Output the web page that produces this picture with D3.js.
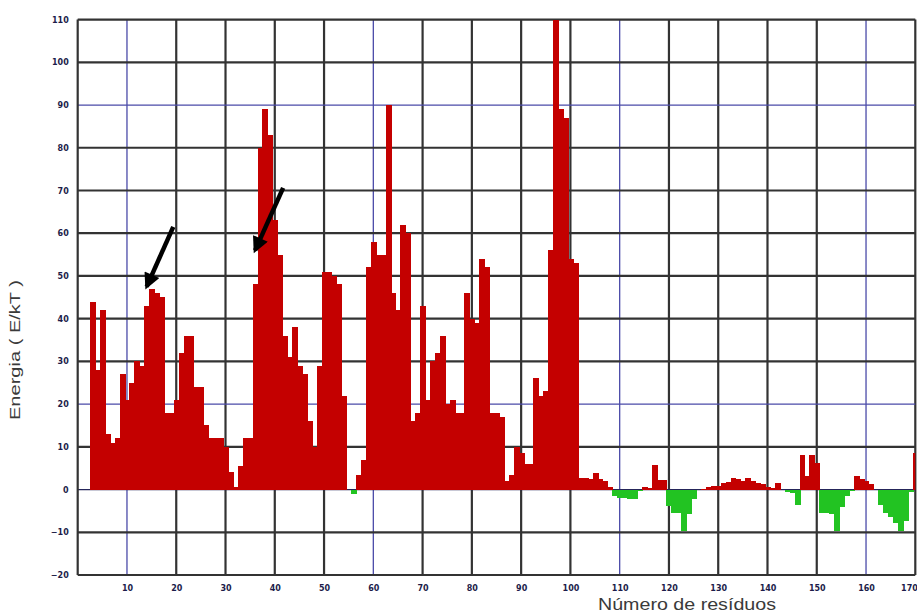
<!DOCTYPE html>
<html>
<head>
<meta charset="utf-8">
<script src="https://cdn.jsdelivr.net/npm/d3@7"></script>
<style>
  body { margin: 0; background: #fff; }
  svg { display: block; }
  .tick-label { font-family: "DejaVu Sans", sans-serif; font-weight: bold; font-size: 8px; fill: #1c1c4a; }
  .axis-title { font-family: "Liberation Sans", Arial, sans-serif; fill: #3a3a3a; }
</style>
</head>
<body>
<svg id="chart"></svg>
<script>
// energy per residue, first bar is residue 3
const firstResidue = 3
const energy = [
  44, 28, 42, 13, 11, 12, 27, 21, 25, 30,
  29, 43, 47, 46, 45, 18, 18, 21, 32, 36,
  36, 24, 24, 15, 12, 12, 12, 10, 4, 0.5,
  5.5, 12, 12, 48, 80, 89, 83, 63, 55, 36,
  31, 38, 29, 27, 16, 10, 29, 51, 51, 50,
  48, 22, 0, -1, 3.5, 7, 52, 58, 55, 55,
  90, 46, 42, 62, 60, 16, 18, 43, 21, 30,
  32, 36, 20, 21, 18, 18, 46, 40, 39, 54,
  52, 18, 18, 17, 2, 3.5, 10, 8.5, 6, 6,
  26, 22, 23, 56, 110, 89, 87, 54, 53, 2.7,
  2.7, 2.4, 3.9, 2.5, 1.9, 0.5, -1.6, -1.9, -2, -2.1,
  -2.1, -0.3, 0.6, 0.4, 5.7, 2.3, 2.3, -3.9, -5.5, -5.5,
  -9.8, -5.8, -2.3, -0.2, 0.2, 0.5, 0.8, 0.8, 1.5, 1.8,
  2.7, 2.5, 2, 2.8, 2, 1.5, 1.2, 0.6, 0.4, 1.6,
  0, -0.5, -0.8, -3.5, 8.2, 3.1, 8, 6.2, -5.5, -5.5,
  -5.8, -9.8, -4, -1.5, -0.4, 3.1, 2.5, 2, 1.2, 0,
  -3.5, -5.5, -6.5, -7.8, -9.8, -7.4, -0.5, 8.6
]
const xTicks = [10, 20, 30, 40, 50, 60, 70, 80, 90, 100, 110, 120, 130, 140, 150, 160, 170]
const yTicks = [-20, -10, 0, 10, 20, 30, 40, 50, 60, 70, 80, 90, 100, 110]
const blueX = [10, 60, 110, 160]
const blueY = [0, 20, 90]
// arrows pointing at the two peaks, in data units
const arrows = [
  {x1: 19.4, y1: 61.5, x2: 14, y2: 47.5},
  {x1: 41.7, y1: 70.6, x2: 36, y2: 56}
]

const w = 917, h = 613

const svg = d3.select("#chart")
  .attr("width", w)
  .attr("height", h)

const x = d3.scaleLinear().domain([0, 170]).range([77.7, 915.3])
const y = d3.scaleLinear().domain([-20, 110]).range([575, 19.6])

svg.append("defs")
  .append("clipPath")
  .attr("id", "plot-clip")
  .append("rect")
  .attr("x", x(0))
  .attr("y", y(110))
  .attr("width", x(170) - x(0))
  .attr("height", y(-20) - y(110))

const marker = svg.select("defs")
  .append("marker")
  .attr("id", "head")
  .attr("viewBox", "0 0 10 10")
  .attr("refX", 8)
  .attr("refY", 5)
  .attr("markerWidth", 4)
  .attr("markerHeight", 3.6)
  .attr("orient", "auto")
marker.append("path")
  .attr("d", "M0,0 L10,5 L0,10 Z")
  .attr("fill", "#000")

// grid
const grid = svg.append("g")
grid.selectAll(".vline")
  .data(xTicks)
  .join("line")
  .attr("x1", d => x(d)).attr("x2", d => x(d))
  .attr("y1", y(110)).attr("y2", y(-20))
  .attr("stroke", d => blueX.includes(d) ? "#4a4aa8" : "#333")
  .attr("stroke-width", d => blueX.includes(d) ? 1.3 : 2.2)

grid.selectAll(".hline")
  .data(yTicks)
  .join("line")
  .attr("x1", x(0)).attr("x2", x(170))
  .attr("y1", d => y(d)).attr("y2", d => y(d))
  .attr("stroke", d => d === 0 ? "#25255a" : blueY.includes(d) ? "#4a4aa8" : "#333")
  .attr("stroke-width", d => blueY.includes(d) ? 1.3 : 2.2)

grid.append("line")
  .attr("x1", x(0)).attr("x2", x(0))
  .attr("y1", y(110)).attr("y2", y(-20))
  .attr("stroke", "#333")
  .attr("stroke-width", 2.2)

// bars
svg.append("g")
  .attr("clip-path", "url(#plot-clip)")
  .attr("shape-rendering", "crispEdges")
  .selectAll("rect")
  .data(energy)
  .join("rect")
  .attr("x", (d, i) => x(firstResidue + i - 0.5))
  .attr("width", x(1) - x(0) + 1)
  .attr("y", d => y(Math.max(0, d)))
  .attr("height", d => Math.abs(y(d) - y(0)))
  .attr("fill", d => d < 0 ? "#22c322" : "#c40000")

// tick labels
const yAxis = svg.append("g")
  .attr("transform", `translate(${x(0)},0)`)
  .call(d3.axisLeft(y).tickValues(yTicks).tickSize(0).tickPadding(9))
yAxis.select(".domain").remove()
yAxis.selectAll("text").attr("class", "tick-label")

const xAxis = svg.append("g")
  .attr("transform", `translate(0,${y(-20)})`)
  .call(d3.axisBottom(x).tickValues(xTicks).tickSize(0).tickPadding(10))
xAxis.select(".domain").remove()
xAxis.selectAll("text").attr("class", "tick-label")
// last label sits on the right edge, keep it inside
xAxis.selectAll("text")
  .filter(d => d === 170)
  .attr("text-anchor", "end")
  .attr("dx", 2)

// arrows
svg.append("g")
  .selectAll("line")
  .data(arrows)
  .join("line")
  .attr("x1", d => x(d.x1)).attr("y1", d => y(d.y1))
  .attr("x2", d => x(d.x2)).attr("y2", d => y(d.y2))
  .attr("stroke", "#000")
  .attr("stroke-width", 4.5)
  .attr("marker-end", "url(#head)")

// titles
svg.append("text")
  .attr("class", "axis-title")
  .attr("x", 687)
  .attr("y", 610)
  .attr("text-anchor", "middle")
  .attr("font-size", 16)
  .attr("textLength", 178)
  .attr("lengthAdjust", "spacingAndGlyphs")
  .text("Número de resíduos")

svg.append("text")
  .attr("class", "axis-title")
  .attr("transform", "translate(20,350) rotate(-90)")
  .attr("text-anchor", "middle")
  .attr("font-size", 14)
  .attr("textLength", 140)
  .attr("lengthAdjust", "spacingAndGlyphs")
  .text("Energia ( E/kT )")
</script>
</body>
</html>
